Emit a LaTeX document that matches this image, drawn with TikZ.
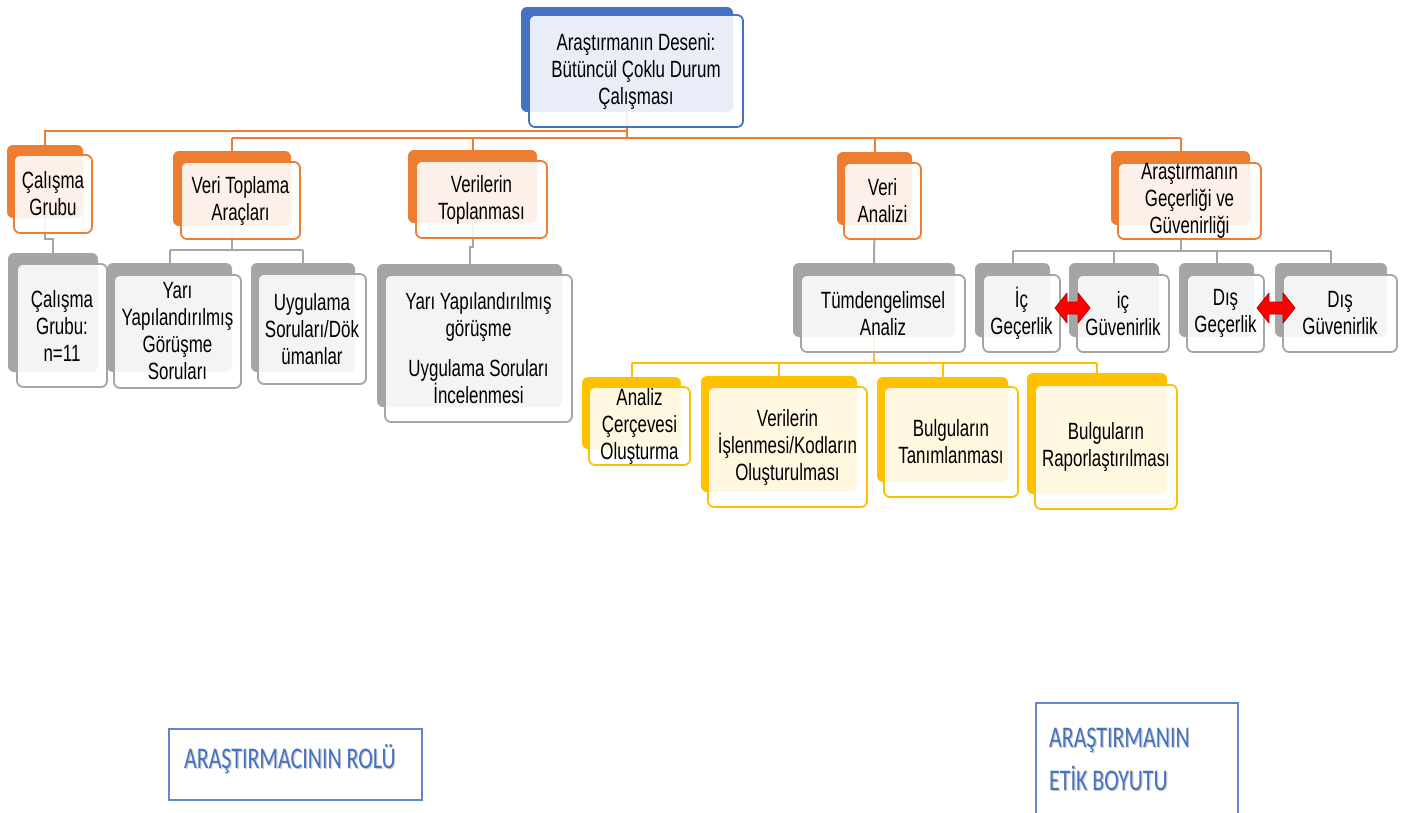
\documentclass[tikz,border=0pt]{standalone}
\usepackage{fontspec}
\setmainfont{Liberation Sans}[FakeStretch=0.72]
\newfontfamily\capsfont{Carlito}[FakeStretch=0.73]
\usetikzlibrary{fit,calc}
\pgfdeclarelayer{background}
\pgfsetlayers{background,main}

\definecolor{hBlue}{HTML}{4472C4}
\definecolor{hOrange}{HTML}{ED7D31}
\definecolor{hGray}{HTML}{A5A5A5}
\definecolor{hGold}{HTML}{FFC000}
\definecolor{hRed}{HTML}{FF0000}
\definecolor{hRedEdge}{HTML}{B00000}

\tikzset{
  base/.style={rectangle, rounded corners=6pt, inner sep=0pt, outer sep=0pt},
  backB/.style={base, fill=hBlue},
  backO/.style={base, fill=hOrange},
  backG/.style={base, fill=hGray},
  backY/.style={base, fill=hGold},
  frontB/.style={base, fill=white, fill opacity=0.88, draw=hBlue, line width=1.8pt},
  frontO/.style={base, fill=white, fill opacity=0.89, draw=hOrange, line width=1.8pt},
  frontG/.style={base, fill=white, fill opacity=0.88, draw=hGray, line width=1.8pt},
  frontY/.style={base, fill=white, fill opacity=0.88, draw=hGold, line width=1.8pt},
  caption/.style={font=\fontsize{23.5}{27}\selectfont, align=center, inner sep=0pt, text=black},
  olink/.style={draw=hOrange, line width=2pt},
  glink/.style={draw=hGray, line width=2pt},
  ylink/.style={draw=hGold, line width=2pt},
  notebox/.style={draw=hBlue!85!white, line width=2pt, inner sep=0pt},
  notetext/.style={font=\capsfont\fontsize{30}{43}\selectfont, text=hBlue, inner sep=0pt, align=left},
  noteshade/.style={notetext, text=black, text opacity=0.22},
  twin/.style={fill=hRed, draw=hRedEdge, line width=0.8pt, line join=round},
}

% two-layer box: #1 name, #2 colour kind, #3 back corners, #4 front corners, #5 text
\newcommand\tier[5]{%
  \node[back#2, fit={#3}] (#1B) {};
  \node[front#2, fit={#4}] (#1) {};
  \node[caption] (#1T) at (#1.center) {#5};
}
% red double arrow centred on #1 with shaft length #2
\newcommand\twinarrow[2]{%
  \path[twin] (#1) ++({-12-#2/2},0) -- ++(12,-15) -- ++(0,9) -- ++(#2,0) -- ++(0,-9)
    -- ++(12,15) -- ++(-12,15) -- ++(0,-9) -- ++(-#2,0) -- ++(0,9) -- cycle;
}

\begin{document}
\begin{tikzpicture}[x=1pt, y=-1pt]
\useasboundingbox (0,0) rectangle (1407,812);

% top of the hierarchy
\tier{top}{B}{(521,7)(733,112)}{(529,15)(743,127)}{Araştırmanın Deseni:\\Bütüncül Çoklu Durum\\Çalışması}

% first level
\tier{cg}{O}{(7,145)(83,218)}{(14,155)(92,233)}{Çalışma\\Grubu}
\tier{vt}{O}{(173,151)(291,226)}{(181,162)(300,239)}{Veri Toplama\\Araçları}
\tier{vl}{O}{(408,150)(537,223)}{(416,161)(547,238)}{Verilerin\\Toplanması}
\tier{va}{O}{(837,152)(912,225)}{(844,163)(921,239)}{Veri\\Analizi}
\tier{ar}{O}{(1111,151)(1250,225)}{(1118,163)(1261,239)}{Araştırmanın\\Geçerliği ve\\Güvenirliği}

% second level
\tier{cn}{G}{(8,253)(98,372)}{(17,264)(107,387)}{Çalışma\\Grubu:\\n=11}
\tier{ys}{G}{(107,263)(232,372)}{(114,275)(241,388)}{Yarı\\Yapılandırılmış\\Görüşme\\Soruları}
\tier{us}{G}{(251,263)(355,372)}{(258,274)(366,384)}{Uygulama\\Soruları/Dök\\ümanlar}
\tier{yu}{G}{(377,264)(562,407)}{(385,275)(572,422)}{Yarı Yapılandırılmış\\görüşme\\[13pt]Uygulama Soruları\\İncelenmesi}
\tier{td}{G}{(793,263)(955,337)}{(801,275)(965,352)}{Tümdengelimsel\\Analiz}
\tier{ig}{G}{(975,263)(1050,337)}{(983,275)(1060,352)}{İç\\Geçerlik}
\tier{iv}{G}{(1069,263)(1159,337)}{(1077,275)(1169,352)}{iç\\Güvenirlik}
\tier{dg}{G}{(1179,263)(1254,337)}{(1187,275)(1264,352)}{Dış\\Geçerlik}
\tier{dv}{G}{(1275,263)(1387,337)}{(1283,275)(1397,352)}{Dış\\Güvenirlik}

% third level
\tier{ac}{Y}{(582,377)(681,449)}{(589,387)(690,465)}{Analiz\\Çerçevesi\\Oluşturma}
\tier{vi}{Y}{(701,376)(857,492)}{(708,387)(867,507)}{Verilerin\\İşlenmesi/Kodların\\Oluşturulması}
\tier{bt}{Y}{(877,377)(1008,482)}{(884,387)(1018,497)}{Bulguların\\Tanımlanması}
\tier{br}{Y}{(1027,373)(1167,494)}{(1035,385)(1177,509)}{Bulguların\\Raporlaştırılması}

% validity pairs
\coordinate (pairA) at ($(ig.east)!0.5!(iv.west)+(4,-5.5)$);
\coordinate (pairB) at ($(dg.east)!0.5!(dv.west)+(2.5,-5.5)$);
\twinarrow{pairA}{11}
\twinarrow{pairB}{14}

% side notes, with a soft shadow under the lettering
\node[notebox, minimum width=253pt, minimum height=71pt, anchor=north west] (rol) at (168,728) {};
\node[noteshade, anchor=base west] (rolS) at (185.2,769.8) {ARAŞTIRMACININ ROLÜ};
\node[notetext, anchor=base west] (rolT) at (184,768) {ARAŞTIRMACININ ROLÜ};
\node[notebox, minimum width=202pt, minimum height=130pt, anchor=north west] (etik) at (1035,702) {};
\node[noteshade, anchor=north west] (etikS) at (1050.2,729.3) {ARAŞTIRMANIN\\ETİK BOYUTU};
\node[notetext, anchor=north west] (etikT) at (1049,727.5) {ARAŞTIRMANIN\\ETİK BOYUTU};

% connectors, kept behind the boxes
\begin{pgfonlayer}{background}
  \coordinate (busA) at (0,131);
  \coordinate (busB) at (0,138);
  \path[olink] (topB.south) -- (topB.south |- busB);
  \path[olink] (topB.south |- busA) -| (cgB.north);
  \path[olink] (vtB.north |- busB) -- (arB.north |- busB);
  \foreach \n in {vtB, vlB, vaB, arB}
    \path[olink] (\n.north |- busB) -- (\n.north);

  \path[glink] (cgB.south) -- ++(0,21) -| (cnB.north);
  \coordinate (busC) at (0,250);
  \path[glink] (vtB.south) -- (vtB.south |- busC);
  \path[glink] (ysB.north |- busC) -- (usB.north |- busC);
  \foreach \n in {ysB, usB}
    \path[glink] (\n.north |- busC) -- (\n.north);
  \path[glink] (vlB.south) -- ++(0,24) -| (yuB.north);
  \path[glink] (vaB.south) -- (tdB.north);
  \coordinate (busD) at (0,251);
  \path[glink] (arB.south) -- (arB.south |- busD);
  \path[glink] (igB.north |- busD) -- (dvB.north |- busD);
  \foreach \n in {igB, ivB, dgB, dvB}
    \path[glink] (\n.north |- busD) -- (\n.north);

  \coordinate (busE) at (0,363);
  \path[ylink] (tdB.south) -- (tdB.south |- busE);
  \path[ylink] (acB.north |- busE) -- (brB.north |- busE);
  \foreach \n in {acB, viB, btB, brB}
    \path[ylink] (\n.north |- busE) -- (\n.north);
\end{pgfonlayer}
\end{tikzpicture}
\end{document}
